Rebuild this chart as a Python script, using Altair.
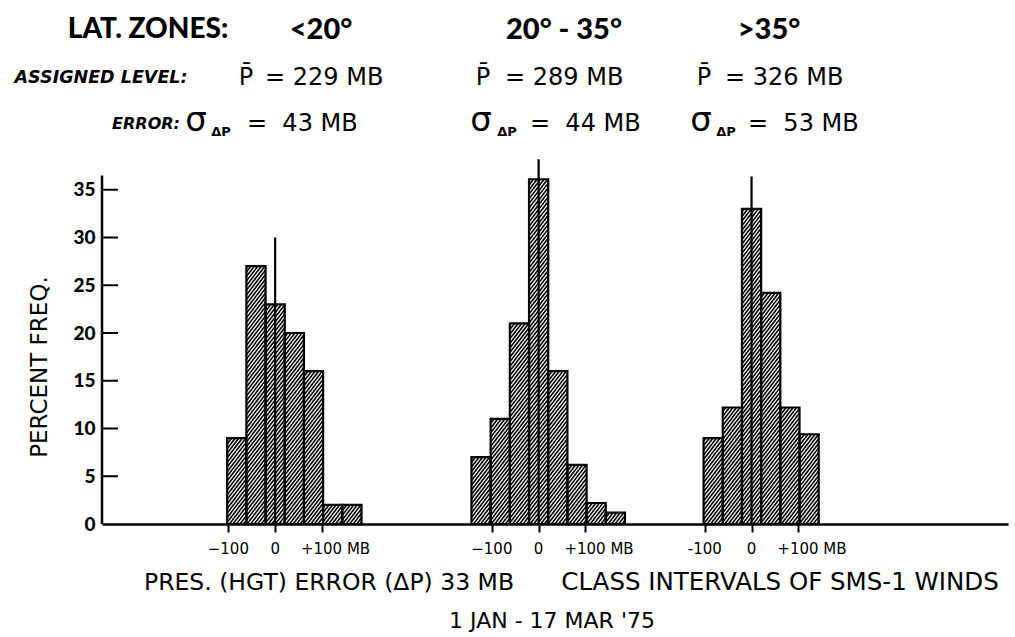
import math
import altair as alt
import pandas as pd

# ---------------- data ----------------
zones = ["<20°", "20° - 35°", ">35°"]
zone_zero_mb = [370, 933, 1388]          # axis position of each zone's 0 MB
first_bin = [-2, -3, -2]                 # class index of each zone's first bar
freq_lt20 = [9, 27, 23, 20, 16, 2, 2]
freq_20_35 = [7, 11, 21, 36.1, 16, 6.2, 2.2, 1.2]
freq_gt35 = [9, 12.2, 33, 24.2, 12.2, 9.4]
zero_line_top = [30, 38.2, 36.4]
class_width = 41
tick_mb = [-100, 0, 100]
tick_text = [["−100", "0", "+100 MB"], ["−100", "0", "+100 MB"], ["-100", "0", "+100 MB"]]
y_tick_values = [0, 5, 10, 15, 20, 25, 30, 35]

# ---------------- layout ----------------
W, H = 906, 382
X_MAX, Y_MAX = 1936, 40
OX, OY = 102, 142
HFONT = "Lato"
BFONT = "DejaVu Sans"
NB = "\u00a0"

xs = alt.Scale(domain=[0, X_MAX], nice=False, zero=False)
ys = alt.Scale(domain=[0, Y_MAX], nice=False)
x_tick_vals = [z + t for z in zone_zero_mb for t in tick_mb]
XAX = alt.Axis(values=x_tick_vals, labels=False, tickSize=8, tickWidth=2, tickColor="black",
               domainColor="black", domainWidth=2.5, grid=False, title=None)
YAX = alt.Axis(values=y_tick_values, ticks=False, domain=False, grid=False, labelFont=HFONT,
               labelFontWeight=900, labelFontSize=19, labelColor="black", labelPadding=7, title=None)

rows = []
for z, zero, fb, freqs in zip(zones, zone_zero_mb, first_bin, [freq_lt20, freq_20_35, freq_gt35]):
    for i, f in enumerate(freqs):
        c = zero + (fb + i) * class_width
        rows.append({"zone": z, "x0": c - class_width / 2, "x1": c + class_width / 2, "y0": 0, "pct": f})
bars = pd.DataFrame(rows)

# hatch lines (decoration) clipped to each bar, in data units
PX_X, PX_Y = W / X_MAX, H / Y_MAX
slope, gap = 1.3, 4.6
hatch = []
for r in rows:
    X0, X1, Hp = r["x0"] * PX_X, r["x1"] * PX_X, r["pct"] * PX_Y
    kmin = math.floor((0 - slope * X1) / gap)
    kmax = math.ceil((Hp - slope * X0) / gap)
    for k in range(kmin, kmax + 1):
        b = k * gap
        xa = max(X0, (0 - b) / slope)
        xb = min(X1, (Hp - b) / slope)
        if xb - xa > 0.3:
            hatch.append({"x0": xa / PX_X, "x1": xb / PX_X,
                          "y0": (slope * xa + b) / PX_Y, "pct": (slope * xb + b) / PX_Y})
hatch = pd.DataFrame(hatch)


def X(field):
    return alt.X(field, type="quantitative", scale=xs, axis=XAX)


def Y(field):
    return alt.Y(field, type="quantitative", scale=ys, axis=YAX)


bar_layer = alt.Chart(bars).mark_rect(fill="white", fillOpacity=0, stroke="black", strokeWidth=2.2).encode(
    x=X("x0"), x2="x1", y=Y("y0"), y2="pct")

hatch_layer = alt.Chart(hatch).mark_rule(color="black", strokeWidth=1.6).encode(
    x=X("x0"), x2="x1", y=Y("y0"), y2="pct")

zl = pd.DataFrame({"x0": zone_zero_mb, "y0": [0, 0, 0], "pct": zero_line_top})
zero_layer = alt.Chart(zl).mark_rule(color="black", strokeWidth=2.2).encode(
    x=X("x0"), y=Y("y0"), y2="pct")

# y axis line and inward ticks
yl = pd.DataFrame({"y0": [0], "pct": [36.5]})
yaxis_line = alt.Chart(yl).mark_rule(color="black", strokeWidth=2.5).encode(
    x=alt.value(0), y=Y("y0"), y2="pct")
yt = pd.DataFrame({"y0": y_tick_values[1:]})
ytick_layer = alt.Chart(yt).mark_rule(color="black", strokeWidth=2).encode(
    y=Y("y0"), x=alt.value(0), x2=alt.value(16))

# x tick labels
tl = []
for zero, texts in zip(zone_zero_mb, tick_text):
    for t, s in zip(tick_mb, texts):
        tl.append({"x0": zero + t, "lab": s, "plus": t > 0})
tl = pd.DataFrame(tl)
tick_lab_c = alt.Chart(tl[~tl["plus"]]).mark_text(font=BFONT, fontSize=15, color="black").encode(
    x=X("x0"), y=alt.value(407), text="lab:N")
tick_lab_p = alt.Chart(tl[tl["plus"]]).mark_text(font=BFONT, fontSize=15, color="black",
                                                  align="left", dx=-21).encode(
    x=X("x0"), y=alt.value(407), text="lab:N")


def txt(s, cx, cy, size, weight="normal", style="normal", align="center", angle=0, font=BFONT):
    kw = dict(font=font, fontSize=size, fontWeight=weight, fontStyle=style, align=align,
              baseline="middle", color="black")
    if angle:
        kw["angle"] = angle
    return alt.Chart(pd.DataFrame({"t": [s]})).mark_text(**kw).encode(
        x=alt.value(cx - OX), y=alt.value(cy - OY), text="t:N")


texts = [
    txt("LAT. ZONES:", 148, 30, 28, 900, font=HFONT),
    txt(zones[0], 321, 30, 29, 900, font=HFONT),
    txt(zones[1], 564, 30, 29, 900, font=HFONT),
    txt(zones[2], 769, 30, 29, 900, font=HFONT),
    txt("ASSIGNED LEVEL:", 101, 78, 17.5, "bold", "italic"),
    txt("P\u0304", 246, 78, 24), txt("= 229 MB", 265, 78, 24, align="left"),
    txt("P\u0304", 483, 78, 24), txt("= 289 MB", 505, 78, 24, align="left"),
    txt("P\u0304", 704, 78, 24), txt("= 326 MB", 725, 78, 24, align="left"),
    txt("ERROR:", 146, 124, 16, "bold", "italic"),
    txt("σ", 196, 121, 34), txt("ΔP", 221, 132, 13, "bold"),
    txt("=" + NB + " 43 MB", 247, 124, 24, align="left"),
    txt("σ", 481, 121, 34), txt("ΔP", 507, 132, 13, "bold"),
    txt("=" + NB + " 44 MB", 530, 124, 24, align="left"),
    txt("σ", 701, 121, 34), txt("ΔP", 726, 132, 13, "bold"),
    txt("=" + NB + " 53 MB", 748, 124, 24, align="left"),
    txt("PERCENT FREQ.", 40, 367, 23, angle=270),
    txt("PRES. (HGT) ERROR (ΔP) 33 MB", 329, 583, 23.5),
    txt("CLASS INTERVALS OF SMS-1 WINDS", 780, 583, 24.5),
    txt("1 JAN - 17 MAR '75", 552, 621, 22),
]

chart = alt.layer(bar_layer, hatch_layer, zero_layer, yaxis_line, ytick_layer, tick_lab_c, tick_lab_p,
                  *texts).properties(
    width=W, height=H,
    autosize=alt.AutoSizeParams(type="none"),
    padding={"left": OX, "top": OY, "right": 1015 - OX - W, "bottom": 637 - OY - H},
    background="white",
).configure_view(strokeWidth=0)

chart.save("out.html", embed_options={"renderer": "svg", "actions": False})
